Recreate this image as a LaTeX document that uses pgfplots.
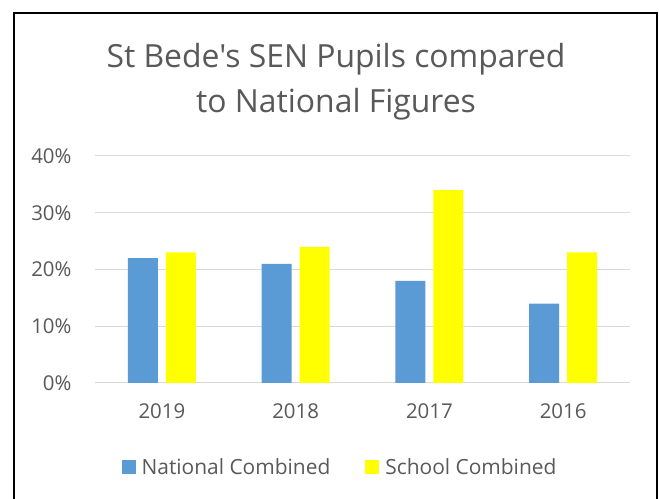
\documentclass[border=0pt]{standalone}
\usepackage{pgfplots}
\pgfplotsset{compat=1.18}
\usepackage{fontspec}
\setmainfont{Open Sans}
\newfontfamily\titlefont{Open Sans}
\definecolor{natblue}{HTML}{5B9BD5}
\definecolor{schyellow}{HTML}{FFFF00}
\definecolor{txtgray}{HTML}{595959}
\definecolor{gridgray}{HTML}{D9D9D9}
\begin{document}
\begin{tikzpicture}
\path[use as bounding box] (0bp,0bp) rectangle (659bp,499bp);
\fill[white] (0bp,0bp) rectangle (659bp,499bp);
\draw[black, line width=2bp] (14bp,-5bp) -- (14bp,486bp) -- (657bp,486bp) -- (657bp,-5bp);
\node[anchor=base, text=txtgray, font=\titlefont\fontsize{32}{38}\selectfont] at (336bp,431bp) {St Bede's SEN Pupils compared};
\node[anchor=base, text=txtgray, font=\titlefont\fontsize{32}{38}\selectfont] at (336bp,386bp) {to National Figures};
\begin{axis}[
  at={(95bp,116bp)}, anchor=south west,
  scale only axis, width=535bp, height=227bp,
  xmin=-0.5, xmax=3.5, ymin=0, ymax=40,
  ytick={0,10,20,30,40},
  yticklabel={\pgfmathprintnumber{\tick}\%},
  xtick={0,1,2,3},
  xticklabels={2019,2018,2017,2016},
  axis x line*=bottom, axis y line*=left,
  x axis line style={draw=gridgray, line width=1bp},
  y axis line style={draw=none},
  ymajorgrids, grid style={gridgray, line width=1bp},
  major tick length=0pt,
  tick label style={text=txtgray, font=\fontsize{20.5}{24}\selectfont},
  /pgf/number format/assume math mode=true,
  yticklabel style={xshift=-20bp},
  xticklabel style={yshift=-17bp},
  ybar, bar width=30bp,
  legend columns=2,
  legend style={at={(0.458,-0.37)}, anchor=center, draw=none, fill=none,
    font=\fontsize{21}{25}\selectfont, text=txtgray,
    /tikz/every odd column/.append style={column sep=4bp},
    /tikz/every even column/.append style={column sep=33bp}},
  legend image code/.code={\fill[#1,draw=none] (0bp,-7bp) rectangle (14bp,7bp);},
]
\addplot[fill=natblue, draw=none, bar shift=-19bp] coordinates {(0,22) (1,21) (2,18) (3,14)};
\addplot[fill=schyellow, draw=none, bar shift=19bp] coordinates {(0,23) (1,24) (2,34) (3,23)};
\legend{National Combined, School Combined}
\end{axis}
\end{tikzpicture}
\end{document}
